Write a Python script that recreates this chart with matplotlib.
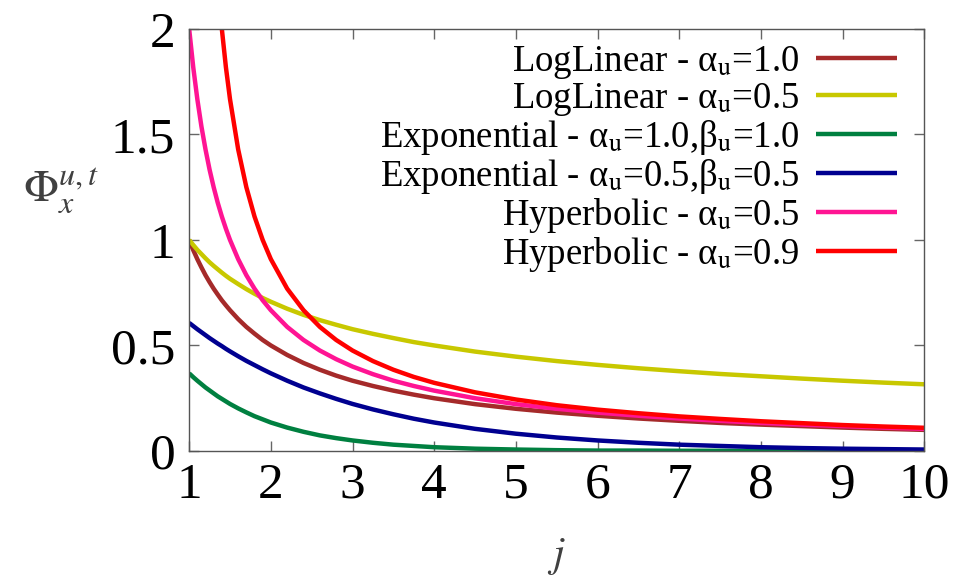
import numpy as np
import matplotlib
matplotlib.use("Agg")
import matplotlib.pyplot as plt

plt.rcParams['font.family'] = ['Liberation Serif', 'DejaVu Serif']
plt.rcParams['mathtext.fontset'] = 'stix'

# j values (x axis)
j = [1.0, 1.05, 1.1, 1.15, 1.2, 1.25, 1.3, 1.35, 1.4, 1.45, 1.5, 1.6, 1.7, 1.8,
     1.9, 2.0, 2.2, 2.4, 2.6, 2.8, 3.0, 3.25, 3.5, 3.75, 4.0, 4.5, 5.0, 5.5,
     6.0, 6.5, 7.0, 7.5, 8.0, 8.5, 9.0, 9.5, 10.0]

loglin_10 = [1.000, 0.952, 0.909, 0.870, 0.833, 0.800, 0.769, 0.741, 0.714, 0.690,
             0.667, 0.625, 0.588, 0.556, 0.526, 0.500, 0.455, 0.417, 0.385, 0.357,
             0.333, 0.308, 0.286, 0.267, 0.250, 0.222, 0.200, 0.182, 0.167, 0.154,
             0.143, 0.133, 0.125, 0.118, 0.111, 0.105, 0.100]
loglin_05 = [1.000, 0.976, 0.953, 0.933, 0.913, 0.894, 0.877, 0.861, 0.845, 0.830,
             0.816, 0.791, 0.767, 0.745, 0.725, 0.707, 0.674, 0.645, 0.620, 0.598,
             0.577, 0.555, 0.535, 0.516, 0.500, 0.471, 0.447, 0.426, 0.408, 0.392,
             0.378, 0.365, 0.354, 0.343, 0.333, 0.324, 0.316]
expo_10 = [0.368, 0.350, 0.333, 0.317, 0.301, 0.287, 0.273, 0.259, 0.247, 0.235,
           0.223, 0.202, 0.183, 0.165, 0.150, 0.135, 0.111, 0.091, 0.074, 0.061,
           0.050, 0.039, 0.030, 0.024, 0.018, 0.011, 0.007, 0.004, 0.002, 0.002,
           0.001, 0.001, 0.000, 0.000, 0.000, 0.000, 0.000]
expo_05 = [0.607, 0.592, 0.577, 0.563, 0.549, 0.535, 0.522, 0.509, 0.497, 0.484,
           0.472, 0.449, 0.427, 0.407, 0.387, 0.368, 0.333, 0.301, 0.273, 0.247,
           0.223, 0.197, 0.174, 0.153, 0.135, 0.105, 0.082, 0.064, 0.050, 0.039,
           0.030, 0.024, 0.018, 0.014, 0.011, 0.009, 0.007]
hyper_05 = [2.000, 1.818, 1.667, 1.538, 1.429, 1.333, 1.250, 1.176, 1.111, 1.053,
            1.000, 0.909, 0.833, 0.769, 0.714, 0.667, 0.588, 0.526, 0.476, 0.435,
            0.400, 0.364, 0.333, 0.308, 0.286, 0.250, 0.222, 0.200, 0.182, 0.167,
            0.154, 0.143, 0.133, 0.125, 0.118, 0.111, 0.105]
hyper_09 = [np.nan, np.nan, np.nan, np.nan, np.nan, np.nan, 2.500, 2.222, 2.000, 1.818,
            1.667, 1.429, 1.250, 1.111, 1.000, 0.909, 0.769, 0.667, 0.588, 0.526,
            0.476, 0.426, 0.385, 0.351, 0.323, 0.278, 0.244, 0.217, 0.196, 0.179,
            0.164, 0.152, 0.141, 0.132, 0.123, 0.116, 0.110]

series = [
    (loglin_10, r'LogLinear - α$_\mathrm{u}$=1.0', '#a52a2a'),
    (loglin_05, r'LogLinear - α$_\mathrm{u}$=0.5', '#c8c800'),
    (expo_10, r'Exponential - α$_\mathrm{u}$=1.0,β$_\mathrm{u}$=1.0', '#008040'),
    (expo_05, r'Exponential - α$_\mathrm{u}$=0.5,β$_\mathrm{u}$=0.5', '#000090'),
    (hyper_05, r'Hyperbolic - α$_\mathrm{u}$=0.5', '#ff1493'),
    (hyper_09, r'Hyperbolic - α$_\mathrm{u}$=0.9', '#ff0000'),
]

fig = plt.figure(figsize=(9.75, 5.76), dpi=100)
ax = fig.add_axes([0.194, 0.217, 0.754, 0.733])

for vals, lab, col in series:
    ax.plot(j, vals, color=col, lw=3.2, label=lab, solid_capstyle='butt')

ax.set_xlim(1, 10)
ax.set_ylim(0, 2)
ax.set_xticks(range(1, 11))
ax.set_yticks([0, 0.5, 1, 1.5, 2])
ax.set_yticklabels(['0', '0.5', '1', '1.5', '2'])
ax.tick_params(direction='in', length=7, width=1, color='#666666',
               top=True, right=True, labelsize=37, pad=10)
ax.tick_params(axis='x', pad=8)
for s in ax.spines.values():
    s.set_color('#555555')
    s.set_linewidth(1)

ax.set_xlabel(r'$j$', fontsize=30, color='#404040', labelpad=20)
ax.set_ylabel(r'$\Phi_x^{u,t}$', fontsize=33, color='#404040', rotation=0)
ax.yaxis.set_label_coords(-0.175, 0.56)

leg = ax.legend(loc='upper right', bbox_to_anchor=(0.963, 0.965), frameon=False,
                markerfirst=False, fontsize=26.5, handlelength=2.2,
                handletextpad=0.45, labelspacing=0.0, borderpad=0, borderaxespad=0)

fig.savefig('out.png', dpi=100)
